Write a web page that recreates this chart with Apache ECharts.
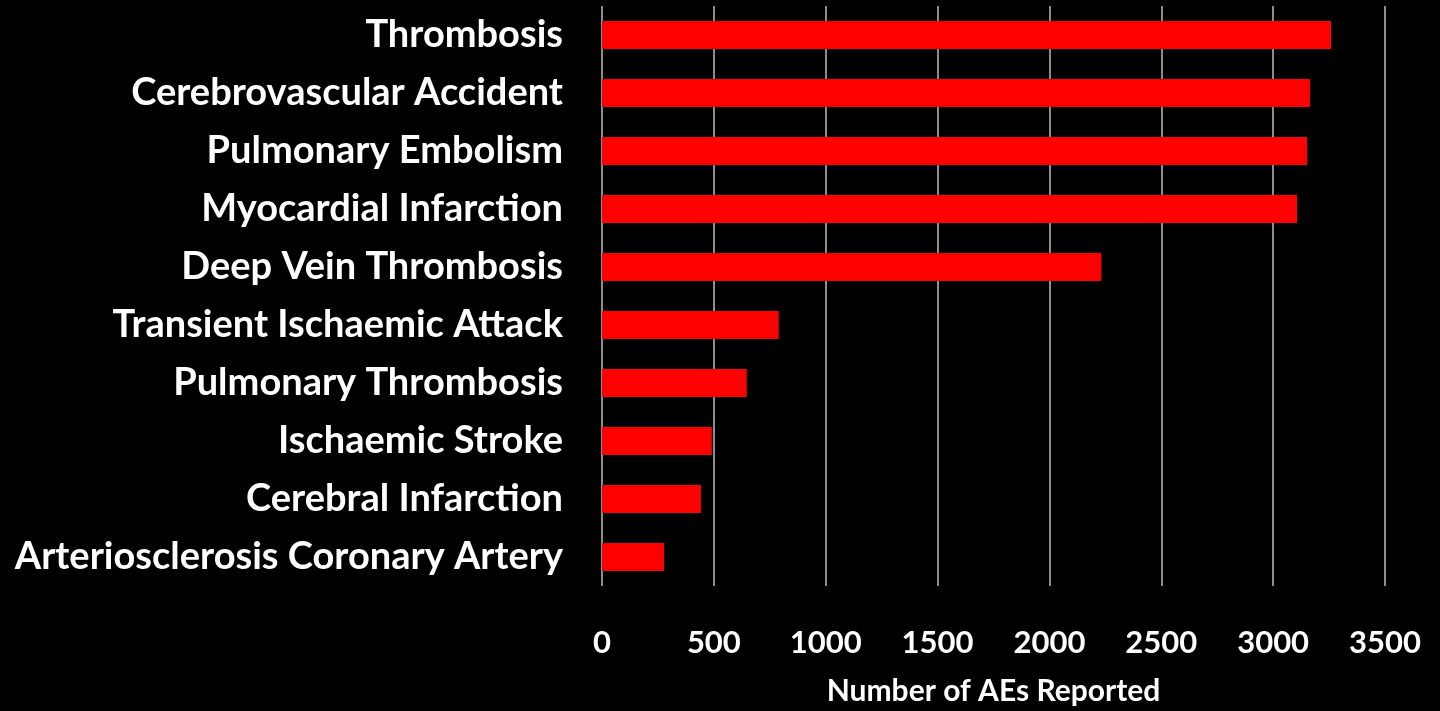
<!DOCTYPE html>
<html>
<head>
<meta charset="utf-8">
<script src="https://cdn.jsdelivr.net/npm/echarts@6/dist/echarts.min.js"></script>
<style>
  html, body { margin: 0; padding: 0; background: #000; }
  #chart { width: 1440px; height: 711px; }
</style>
</head>
<body>
<div id="chart"></div>
<script>
const categories = [
  'Thrombosis',
  'Cerebrovascular Accident',
  'Pulmonary Embolism',
  'Myocardial Infarction',
  'Deep Vein Thrombosis',
  'Transient Ischaemic Attack',
  'Pulmonary Thrombosis',
  'Ischaemic Stroke',
  'Cerebral Infarction',
  'Arteriosclerosis Coronary Artery',
]
const reportCounts = [3259, 3165, 3152, 3107, 2232, 790, 647, 491, 442, 277]
const xTicks = [0, 500, 1000, 1500, 2000, 2500, 3000, 3500]

const chart = echarts.init(document.getElementById('chart'))
chart.setOption({
  backgroundColor: '#000',
  textStyle: { fontFamily: 'Lato' },
  grid: {
    left: 602,
    right: 55,
    top: 6,
    bottom: 114,
  },
  xAxis: {
    type: 'value',
    min: xTicks[0],
    max: xTicks[xTicks.length - 1],
    interval: 500,
    name: 'Number of AEs Reported',
    nameLocation: 'middle',
    nameGap: 90,
    nameTextStyle: { color: '#fff', fontSize: 30, fontWeight: 'bold', fontFamily: 'Lato' },
    axisLine: { show: false },
    axisTick: { show: false },
    axisLabel: {
      color: '#fff',
      fontSize: 31,
      fontWeight: 'bold',
      fontFamily: 'Lato',
      margin: 41,
      formatter: (v) => String(v),
    },
    splitLine: { show: true, lineStyle: { color: '#bdbdbd', width: 1.5 } },
  },
  yAxis: {
    type: 'category',
    inverse: true,
    data: categories,
    axisLine: { show: false },
    axisTick: { show: false },
    axisLabel: {
      color: '#fff',
      fontSize: 38,
      fontWeight: 'bold',
      fontFamily: 'Lato',
      margin: 39,
      padding: [0, 0, 6, 0],
    },
  },
  series: [{
    type: 'bar',
    data: reportCounts,
    barWidth: 28,
    itemStyle: { color: '#ff0000' },
  }],
})
</script>
</body>
</html>
